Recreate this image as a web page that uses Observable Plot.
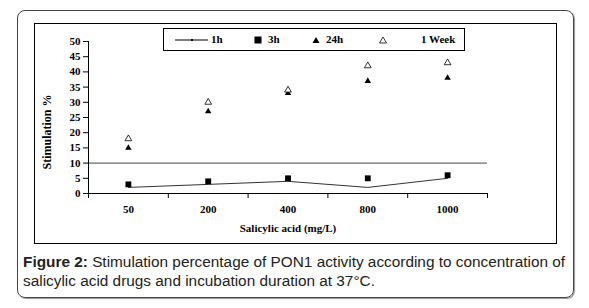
<!DOCTYPE html>
<html>
<head>
<meta charset="utf-8">
<script src="https://cdn.jsdelivr.net/npm/d3@7"></script>
<script src="https://cdn.jsdelivr.net/npm/@observablehq/plot@0.6"></script>
<style>
  html, body { margin: 0; padding: 0; background: #fff; }
  body { width: 589px; height: 308px; position: relative; overflow: hidden; }
  .outer { position: absolute; left: 17px; top: 10px; width: 555px; height: 286px;
           border: 1px solid #444; border-radius: 8px; box-shadow: 1px 1px 1px #999; }
  .inner { position: absolute; left: 34px; top: 23px; width: 521px; height: 219px; border: 1px solid #000; }
  #chart { position: absolute; left: 0; top: 0; }
  #chart svg text { font-family: "Liberation Serif", "Times New Roman", "DejaVu Serif", serif !important; font-weight: bold; }
  .legend { position: absolute; left: 163px; top: 28px; width: 300px; height: 21px; border: 1px solid #000;
            background: #fff; font-family: "Liberation Serif", "Times New Roman", "DejaVu Serif", serif; font-weight: bold; font-size: 11px; color: #000; }
  .legend span { position: absolute; top: 4px; }
  .legend svg { position: absolute; }
  .ylabel { position: absolute; left: 47px; top: 132px; width: 0; height: 0; }
  .ylabel span { position: absolute; left: 0; top: 0; transform: translate(-50%, -50%) rotate(-90deg); white-space: nowrap;
                 font-family: "Liberation Serif", "Times New Roman", serif; font-weight: bold; font-size: 12px; line-height: 14px; color: #000; }
  .caption { position: absolute; left: 23px; top: 253px; font-family: "Liberation Sans", Arial, sans-serif; font-size: 14px; line-height: 19px;
             color: #222; white-space: nowrap; transform-origin: 0 0; transform: scaleX(1.097); }
</style>
</head>
<body>
<div class="outer"></div>
<div class="inner"></div>
<div id="chart"></div>
<div class="legend" id="legend"></div>
<div class="ylabel"><span id="ylabel"></span></div>
<div class="caption"><b>Figure 2:</b> Stimulation percentage of PON1 activity according to concentration of<br>salicylic acid drugs and incubation duration at 37°C.</div>
<script>
const categories = ["50", "200", "400", "800", "1000"];
const h1 = [2, 3, 4, 2, 5];
const h3 = [3, 4, 5, 5, 6];
const h24 = [15, 27, 33, 37, 38];
const week1 = [18, 30, 34, 42, 43];
const yTicks = [0, 5, 10, 15, 20, 25, 30, 35, 40, 45, 50];
const referenceLevel = [10];
const seriesNames = ["1h", "3h", "24h", "1 Week"];
const xLabel = "Salicylic acid (mg/L)";
const yLabel = "Stimulation %";

const pos = c => categories.indexOf(c) + 0.5;
const rows = vals => categories.map((c, i) => ({cat: c, v: vals[i]}));
const boundaries = d3.range(categories.length + 1);
const centers = categories.map(pos);

const plot = Plot.plot({
  width: 589, height: 250,
  marginLeft: 88, marginRight: 102, marginTop: 41, marginBottom: 57,
  style: "font-family: 'Liberation Serif', 'Times New Roman', serif; font-size: 11px; font-weight: bold; color: #000; background: transparent;",
  x: {type: "linear", domain: [0, categories.length]},
  y: {domain: [0, 50]},
  marks: [
    Plot.ruleY(referenceLevel, {stroke: "#444", strokeWidth: 1}),
    Plot.ruleY([0], {stroke: "#000"}),
    Plot.ruleX([0], {stroke: "#000"}),
    Plot.axisY({ticks: yTicks, tickSize: 5, tickPadding: 3, label: null, stroke: "#000", fontSize: 11}),
    Plot.axisX({ticks: boundaries, tickSize: 5, tickFormat: () => "", label: null, stroke: "#000"}),
    Plot.axisX({ticks: centers, tickSize: 0, tickPadding: 12, tickFormat: d => categories[Math.floor(d)], label: null, fontSize: 11}),
    Plot.line(rows(h1), {x: d => pos(d.cat), y: "v", stroke: "#333", strokeWidth: 1}),
    Plot.dot(rows(h3), {x: d => pos(d.cat), y: "v", symbol: "square", fill: "#000", r: 3.3}),
    Plot.dot(rows(h24), {x: d => pos(d.cat), y: "v", symbol: "triangle", fill: "#000", r: 2.4}),
    Plot.dot(rows(week1), {x: d => pos(d.cat), y: "v", symbol: "triangle", fill: "#fff", stroke: "#000", strokeWidth: 0.8, r: 2.5}),
    Plot.text([xLabel], {frameAnchor: "bottom", dy: 38, text: d => d, fontSize: 11})
  ]
});
document.getElementById("chart").appendChild(plot);
document.getElementById("ylabel").textContent = yLabel;

// legend
const legend = document.getElementById("legend");
const items = [
  {name: seriesNames[0], sym: '<svg width="34" height="6" style="left:11px;top:8px"><line x1="0" y1="3" x2="33" y2="3" stroke="#000" stroke-width="1"/><rect x="16" y="2" width="2" height="2" fill="#000"/></svg>', tx: 47},
  {name: seriesNames[1], sym: '<svg width="8" height="8" style="left:90px;top:7px"><rect x="0.5" y="0.5" width="7" height="7" fill="#000"/></svg>', tx: 104},
  {name: seriesNames[2], sym: '<svg width="8" height="8" style="left:148px;top:7px"><path d="M4,1 L7.5,7 L0.5,7 Z" fill="#000"/></svg>', tx: 162},
  {name: seriesNames[3], sym: '<svg width="8" height="8" style="left:215px;top:7px"><path d="M4,1 L7.5,7 L0.5,7 Z" fill="#fff" stroke="#000" stroke-width="0.8"/></svg>', tx: 257}
];
items.forEach(it => {
  legend.insertAdjacentHTML("beforeend", it.sym + `<span style="left:${it.tx}px">${it.name}</span>`);
});
</script>
</body>
</html>
